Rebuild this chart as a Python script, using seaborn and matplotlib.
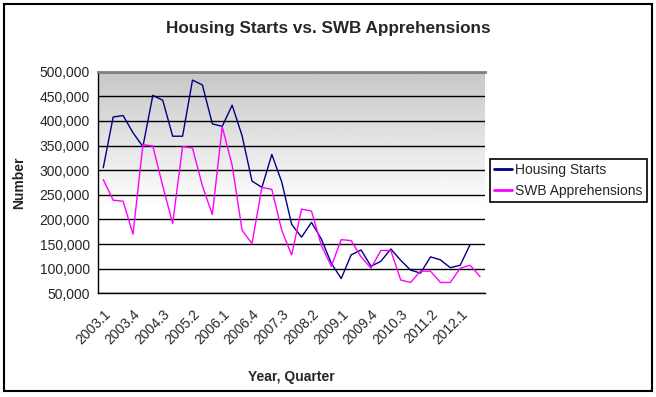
import numpy as np
import pandas as pd
import matplotlib
matplotlib.use("Agg")
import matplotlib.pyplot as plt
import matplotlib.ticker as mticker
from matplotlib.patches import Rectangle
import seaborn as sns

# quarters 2003.1 .. 2012.3
quarters = [f"{y}.{q}" for y in range(2003, 2013) for q in range(1, 5)][:39]

housing_starts = [305000, 408000, 411000, 376000, 348000, 452000, 442000, 369000,
                  369000, 483000, 473000, 394000, 389000, 432000, 370000, 278000,
                  265000, 332000, 276000, 190000, 164000, 194000, 160000, 111000,
                  80000, 128000, 138000, 105000, 115000, 140000, 117000, 97000,
                  91000, 124000, 118000, 102000, 107000, 149000]

swb_apprehensions = [281000, 239000, 237000, 170000, 352000, 349000, 268000, 192000,
                     348000, 345000, 268000, 210000, 388000, 310000, 178000, 151000,
                     265000, 261000, 178000, 128000, 221000, 217000, 147000, 105000,
                     159000, 157000, 124000, 101000, 137000, 137000, 77000, 72000,
                     95000, 95000, 72000, 72000, 101000, 107000, 84000]

series_names = ["Housing Starts", "SWB Apprehensions"]
colors = ["#000080", "#ff00ff"]

df = pd.concat([
    pd.DataFrame({"idx": range(len(housing_starts)), "value": housing_starts,
                  "series": series_names[0]}),
    pd.DataFrame({"idx": range(len(swb_apprehensions)), "value": swb_apprehensions,
                  "series": series_names[1]}),
])

sns.set_style("white")
plt.rcParams["font.family"] = ["Liberation Sans", "DejaVu Sans"]

fig = plt.figure(figsize=(6.56, 3.97), dpi=100)
ax = fig.add_axes([98.3 / 656, 1 - 293.3 / 397, (485 - 98.3) / 656, (293.3 - 71.7) / 397])

# gray (top) to white (bottom) gradient background of plot area
grad = np.clip(np.linspace(0.74, 1.0, 256) / 0.95, 0, 1)
grad = np.concatenate([grad, np.ones(80)]).reshape(-1, 1)
ax.imshow(grad, cmap="gray", vmin=0, vmax=1, aspect="auto",
          extent=[0, 1, 0, 1], transform=ax.transAxes, zorder=0)

sns.lineplot(data=df, x="idx", y="value", hue="series", palette=colors,
             linewidth=1.0, ax=ax, legend=True, zorder=3)

ax.set_xlim(-0.5, 38.5)
ax.set_ylim(50000, 500000)
ax.yaxis.set_major_locator(mticker.MultipleLocator(50000))
ax.yaxis.set_major_formatter(mticker.FuncFormatter(lambda v, p: f"{int(v):,}"))
ax.grid(axis="y", color="black", linewidth=1, zorder=1)
ax.set_axisbelow(True)

ax.set_xticks(range(0, 39, 3))
ax.set_xticklabels(quarters[::3], rotation=45, ha="right", rotation_mode="anchor")
ax.set_xticks(np.arange(-0.5, 39, 1), minor=True)
ax.tick_params(axis="x", which="major", length=0, pad=10, labelsize=10)
ax.tick_params(axis="x", which="minor", length=4, width=1, color="black", direction="out")
ax.tick_params(axis="y", length=4, width=1, color="black", direction="out", labelsize=10, pad=2)

for s in ["left", "bottom"]:
    ax.spines[s].set_color("black")
    ax.spines[s].set_linewidth(1)
ax.spines["right"].set_visible(False)
ax.spines["top"].set_color("#808080")
ax.spines["top"].set_linewidth(2)

ax.set_xlabel("Year, Quarter", fontsize=10, fontweight="bold", labelpad=16)
ax.set_ylabel("Number", fontsize=10, fontweight="bold", labelpad=10)
fig.text(0.5, 1 - 28 / 397, "Housing Starts vs. SWB Apprehensions", ha="center",
         va="center", fontsize=12.3, fontweight="bold")

leg = ax.legend(loc="upper left", bbox_to_anchor=(490 / 656, 1 - 159 / 397),
                bbox_transform=fig.transFigure, fancybox=False, framealpha=1,
                edgecolor="black", fontsize=10, handlelength=1.3, handletextpad=0.2,
                borderpad=0.3, labelspacing=0.5, borderaxespad=0)
leg.get_frame().set_linewidth(1.2)
for line in leg.get_lines():
    line.set_linewidth(2)

fig.patches.append(Rectangle((4 / 656, 1 - 391 / 397), 648 / 656, 387 / 397,
                             transform=fig.transFigure, fill=False,
                             edgecolor="black", linewidth=1.5))

fig.savefig("out.png", dpi=100)
